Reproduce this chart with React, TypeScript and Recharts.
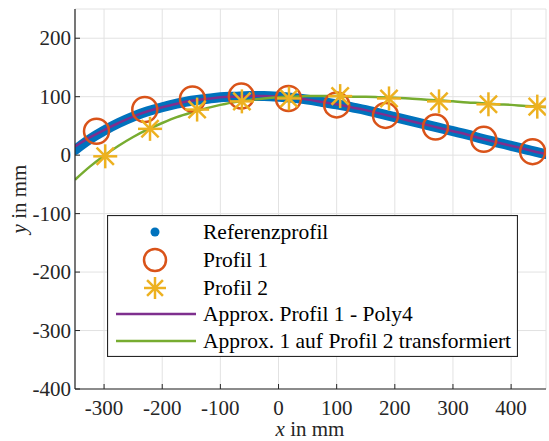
import React from "react";
import {
  ComposedChart,
  Line,
  Scatter,
  XAxis,
  YAxis,
  CartesianGrid,
  Legend,
  Label,
} from "recharts";

// x positions (mm) shared by the reference profile and both fitted curves
const curveX = [
  -350, -325, -300, -275, -250, -225, -200, -175, -150, -125, -100, -75, -50,
  -25, 0, 25, 50, 75, 100, 125, 150, 175, 200, 225, 250, 275, 300, 325, 350,
  375, 400, 425, 450, 460,
];
const referenzY = [
  9, 27, 42, 55, 66, 75, 82, 88, 93, 96, 99, 100, 101, 101, 100, 98, 95, 91,
  87, 82, 77, 71, 65, 59, 53, 47, 41, 35, 28, 22, 16, 10, 4, 2,
];
const poly4Y = [
  15, 30, 43, 55, 66, 75, 82, 88, 93, 96, 99, 100, 101, 101, 100, 98, 95, 91,
  87, 82, 77, 71, 65, 59, 53, 47, 41, 35, 28, 22, 16, 10, 4, 2,
];
const transformiertY = [
  -42, -20, -1, 16, 31, 44, 55, 65, 73, 80, 86, 91, 94, 97, 99, 100, 101, 101,
  101, 100, 100, 99, 98, 97, 95, 94, 92, 90, 89, 87, 86, 84, 83, 82,
];

const profil1X = [-313, -230, -148, -64, 17, 100, 184, 270, 353, 437];
const profil1Y = [41, 78, 96, 101, 97, 86, 68, 48, 27, 6];
const profil2X = [-298, -221, -140, -63, 18, 106, 190, 276, 361, 445];
const profil2Y = [-2, 45, 78, 92, 97, 101, 97, 92, 87, 83];

const xTicks = [-300, -200, -100, 0, 100, 200, 300, 400];
const yTicks = [-400, -300, -200, -100, 0, 100, 200];

const BLUE = "#0072BD";
const ORANGE = "#D95319";
const YELLOW = "#EDB120";
const PURPLE = "#7E2F8E";
const GREEN = "#77AC30";
const INK = "#262626";
const FONT = "'Liberation Serif', 'Times New Roman', serif";

const toPoints = (xs: number[], ys: number[]) =>
  xs.map((x, i) => ({ x, y: ys[i] }));

const referenzData = toPoints(curveX, referenzY);
const poly4Data = toPoints(curveX, poly4Y);
const transData = toPoints(curveX, transformiertY);
const profil1Data = toPoints(profil1X, profil1Y);
const profil2Data = toPoints(profil2X, profil2Y);

const CircleMark = (props: any) => {
  const { cx, cy } = props;
  if (cx == null || cy == null) return <g />;
  return (
    <circle cx={cx} cy={cy} r={12.5} fill="none" stroke={ORANGE} strokeWidth={2.5} />
  );
};

const Asterisk = ({ cx, cy, s = 12, color = YELLOW }: any) => {
  if (cx == null || cy == null) return <g />;
  const d = s * 0.72;
  return (
    <g stroke={color} strokeWidth={2.5} strokeLinecap="butt">
      <line x1={cx - s} y1={cy} x2={cx + s} y2={cy} />
      <line x1={cx} y1={cy - s} x2={cx} y2={cy + s} />
      <line x1={cx - d} y1={cy - d} x2={cx + d} y2={cy + d} />
      <line x1={cx - d} y1={cy + d} x2={cx + d} y2={cy - d} />
    </g>
  );
};

const StarMark = (props: any) => <Asterisk cx={props.cx} cy={props.cy} />;

// tick labels in serif type, like the rest of the figure
const XTick = (props: any) => (
  <text x={props.x} y={props.y + 16} textAnchor="middle" fontFamily={FONT} fontSize={21} fill={INK}>
    {props.payload.value}
  </text>
);
const YTick = (props: any) => (
  <text x={props.x} y={props.y + 7} textAnchor="end" fontFamily={FONT} fontSize={21} fill={INK}>
    {props.payload.value}
  </text>
);

const legendRows = [
  { label: "Referenzprofil", kind: "dot" },
  { label: "Profil 1", kind: "circle" },
  { label: "Profil 2", kind: "star" },
  { label: "Approx. Profil 1 - Poly4", kind: "purple" },
  { label: "Approx. 1 auf Profil 2 transformiert", kind: "green" },
];
const rowY = [17, 45, 73, 99, 126];

const LegendBox = () => (
  <svg width={411} height={142} style={{ display: "block" }}>
    <rect x={0.5} y={0.5} width={410} height={141} fill="#fff" stroke={INK} strokeWidth={1.2} />
    {legendRows.map((row, i) => {
      const y = rowY[i];
      let icon: React.ReactNode = null;
      if (row.kind === "dot") icon = <circle cx={48} cy={y} r={4.5} fill={BLUE} />;
      if (row.kind === "circle")
        icon = <circle cx={48} cy={y} r={11} fill="none" stroke={ORANGE} strokeWidth={2.5} />;
      if (row.kind === "star") icon = <Asterisk cx={48} cy={y} s={11} />;
      if (row.kind === "purple")
        icon = <line x1={9} y1={y} x2={89} y2={y} stroke={PURPLE} strokeWidth={2.5} />;
      if (row.kind === "green")
        icon = <line x1={9} y1={y} x2={89} y2={y} stroke={GREEN} strokeWidth={2.5} />;
      return (
        <g key={row.label}>
          {icon}
          <text x={96} y={y + 7} fontFamily={FONT} fontSize={21.5} fill="#000">
            {row.label}
          </text>
        </g>
      );
    })}
  </svg>
);

const noTick = () => <g />;

export default function App() {
  return (
    <div style={{ position: "absolute", left: 0, top: 0, background: "#fff" }}>
      <ComposedChart
        width={549}
        height={441}
        margin={{ top: 9, right: 3, left: 0, bottom: 0 }}
      >
        <CartesianGrid stroke="#e2e2e2" strokeWidth={1} />
        <XAxis
          type="number"
          dataKey="x"
          domain={[-350, 460]}
          ticks={xTicks}
          allowDataOverflow
          height={52}
          axisLine={{ stroke: INK, strokeWidth: 1.2 }}
          tickLine={{ stroke: INK }}
          tickSize={-5}
          tickMargin={15}
          tick={XTick}
        >
          <Label
            content={() => (
              <text x={310} y={436} textAnchor="middle" fontFamily={FONT} fontSize={21} fill={INK}>
                <tspan fontStyle="italic">x</tspan> in mm
              </text>
            )}
          />
        </XAxis>
        <XAxis
          xAxisId="top"
          orientation="top"
          type="number"
          dataKey="x"
          domain={[-350, 460]}
          ticks={xTicks}
          allowDataOverflow
          height={0}
          axisLine={{ stroke: INK, strokeWidth: 1.2 }}
          tickLine={{ stroke: INK }}
          tickSize={-5}
          tick={noTick}
        />
        <YAxis
          type="number"
          dataKey="y"
          domain={[-400, 250]}
          ticks={yTicks}
          allowDataOverflow
          width={75}
          axisLine={{ stroke: INK, strokeWidth: 1.2 }}
          tickLine={{ stroke: INK }}
          tickSize={-5}
          tickMargin={9}
          tick={YTick}
        >
          <Label
            content={() => (
              <text
                transform="translate(26,199) rotate(-90)"
                x={0}
                y={0}
                textAnchor="middle"
                fontFamily={FONT}
                fontSize={21}
                fill={INK}
              >
                <tspan fontStyle="italic">y</tspan> in mm
              </text>
            )}
          />
        </YAxis>
        <YAxis
          yAxisId="right"
          orientation="right"
          type="number"
          domain={[-400, 250]}
          ticks={yTicks}
          allowDataOverflow
          width={0}
          axisLine={{ stroke: INK, strokeWidth: 1.2 }}
          tickLine={{ stroke: INK }}
          tickSize={-5}
          tick={noTick}
        />
        <Line
          data={referenzData}
          dataKey="y"
          type="monotone"
          stroke={BLUE}
          strokeWidth={10}
          strokeLinecap="round"
          dot={false}
          isAnimationActive={false}
        />
        <Scatter
          data={profil1Data}
          dataKey="y"
          shape={CircleMark}
          isAnimationActive={false}
        />
        <Scatter
          data={profil2Data}
          dataKey="y"
          shape={StarMark}
          isAnimationActive={false}
        />
        <Line
          data={poly4Data}
          dataKey="y"
          type="monotone"
          stroke={PURPLE}
          strokeWidth={2.5}
          dot={false}
          isAnimationActive={false}
        />
        <Line
          data={transData}
          dataKey="y"
          type="monotone"
          stroke={GREEN}
          strokeWidth={2.5}
          dot={false}
          isAnimationActive={false}
        />
        <Legend
          layout="horizontal"
          verticalAlign="middle"
          align="center"
          content={() => <LegendBox />}
          wrapperStyle={{ position: "absolute", left: 107, top: 215, width: 411, height: 142 }}
        />
      </ComposedChart>
    </div>
  );
}
